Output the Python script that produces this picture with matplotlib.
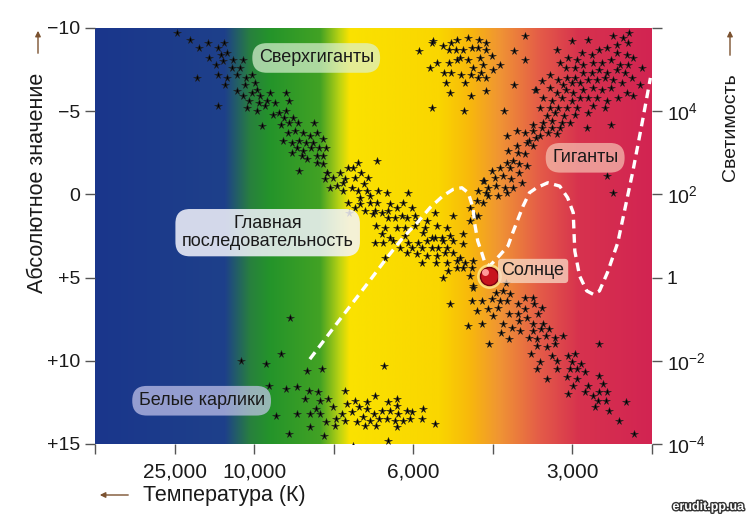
import matplotlib
matplotlib.use('Agg')
import matplotlib.pyplot as plt
import matplotlib.patheffects as pe
from matplotlib.transforms import offset_copy
import numpy as np

plt.rcParams['font.family'] = ['Liberation Sans', 'DejaVu Sans']
plt.rcParams['mathtext.fontset'] = 'custom'
plt.rcParams['mathtext.rm'] = 'Liberation Sans'

# x: position on the temperature scale (ticks 0..7), y: absolute magnitude
supergiants = [(1.03, -9.7), (1.19, -9.3), (1.31, -8.8), (1.42, -9.1), (1.55, -8.8), (1.62, -9.1), (1.58, -8.4),
               (1.66, -8.5), (1.43, -8.2), (1.61, -8.0), (1.73, -8.1), (1.86, -8.1), (1.52, -7.8), (1.72, -7.6),
               (1.82, -7.6), (1.28, -7.0), (1.55, -7.2), (1.66, -7.0), (1.78, -7.2), (1.90, -7.0), (1.97, -7.2),
               (1.63, -6.6), (1.88, -6.6), (2.01, -6.7), (1.78, -6.2), (1.86, -5.9), (1.97, -6.1), (2.04, -6.3),
               (2.07, -5.9), (2.20, -6.1), (2.40, -6.1), (1.93, -5.6), (2.06, -5.5), (2.16, -5.6), (2.26, -5.5),
               (1.55, -5.3), (1.91, -5.2), (2.04, -5.0), (2.14, -5.3), (2.44, -5.6), (2.24, -4.8), (2.31, -4.9),
               (2.40, -5.0), (2.37, -4.6), (2.49, -4.6), (2.10, -4.1), (2.34, -4.2), (2.44, -4.3), (2.55, -4.3),
               (2.75, -4.3), (2.42, -3.7), (2.51, -3.8), (2.61, -3.7), (2.70, -3.5), (2.79, -3.7), (2.36, -3.2),
               (2.47, -3.1), (2.56, -3.2), (2.65, -3.1), (2.74, -3.1), (2.86, -3.3), (2.54, -2.8), (2.61, -2.6),
               (2.71, -2.8), (2.81, -2.8), (2.90, -2.8), (2.47, -2.5), (2.60, -2.3), (2.66, -2.1), (2.79, -2.3),
               (2.86, -2.3), (2.79, -1.9), (2.86, -1.8), (2.56, -1.4), (2.91, -1.3)]

main_upper = [(3.30, -1.9), (3.54, -2.0), (2.91, -1.3), (3.08, -1.3), (3.18, -1.6), (3.24, -1.6), (3.34, -1.3),
              (3.43, -1.0), (2.89, -0.9), (2.99, -1.0), (3.14, -0.9), (3.27, -1.0), (2.95, -0.4), (3.04, -0.5),
              (3.12, -0.7), (3.23, -0.4), (3.38, -0.6), (3.12, -0.2), (3.30, -0.2), (3.42, -0.2), (3.56, -0.2),
              (3.67, -0.1), (3.93, -0.1), (3.45, 0.1), (3.33, 0.2), (3.18, 0.5), (3.33, 0.6), (3.45, 0.5),
              (3.54, 0.5), (3.71, 0.6), (3.87, 0.5), (3.27, 0.8), (3.39, 1.0), (3.52, 1.0), (3.68, 1.0),
              (3.79, 0.8), (3.98, 0.8), (3.19, 1.1), (3.49, 1.2), (3.61, 1.1), (3.86, 1.3), (4.02, 1.3),
              (4.27, 1.1), (3.68, 1.4), (3.77, 1.4), (3.92, 1.4), (4.05, 1.6), (4.17, 1.6), (4.50, 1.3),
              (3.53, 1.9), (3.64, 2.0), (3.79, 2.0), (3.89, 2.0), (4.02, 1.9), (4.15, 2.0), (4.30, 1.9),
              (4.42, 2.0), (3.61, 2.4), (3.71, 2.6), (3.89, 2.5), (4.12, 2.3), (4.23, 2.6), (4.36, 2.6),
              (4.46, 2.5), (4.62, 2.4), (3.52, 2.9), (3.62, 2.9), (3.74, 2.8), (3.93, 2.9), (4.06, 2.9),
              (4.17, 2.8), (4.27, 2.6), (4.37, 2.8), (4.50, 2.8), (4.62, 3.0), (3.83, 3.2), (3.99, 3.2),
              (4.11, 3.2), (4.23, 3.2), (4.31, 3.2), (4.42, 3.2), (3.64, 3.8), (3.92, 3.5), (4.05, 3.6),
              (4.17, 3.7), (4.30, 3.7), (4.40, 3.5), (4.50, 3.5), (4.59, 3.8), (4.11, 4.1), (4.28, 4.1),
              (4.42, 4.1), (4.55, 4.0), (4.65, 4.1), (4.75, 4.0), (4.43, 4.6), (4.55, 4.4), (4.62, 4.4),
              (4.74, 4.4), (4.37, 5.0), (4.71, 4.9), (4.75, 5.6), (4.87, -0.8), (4.81, -0.2), (4.92, -0.1),
              (4.80, 0.4), (4.87, 0.5), (4.71, 0.8), (4.77, 1.3), (4.71, 1.6), (4.81, 1.3)]

yellow_cluster = [(4.25, -9.2), (4.37, -8.9), (4.47, -9.1), (4.55, -9.3), (4.69, -9.4), (4.82, -9.3), (4.92, -9.1),
                  (4.07, -8.6), (4.45, -8.7), (4.54, -8.7), (4.62, -8.7), (4.74, -8.8), (4.81, -8.8), (4.92, -8.7),
                  (4.59, -8.2), (4.84, -8.2), (4.99, -8.3), (4.30, -7.9), (4.45, -7.9), (4.55, -8.1), (4.69, -8.1),
                  (4.87, -7.8), (5.09, -7.8), (4.21, -7.6), (4.75, -7.6), (5.00, -7.5), (4.38, -7.3), (4.48, -7.3),
                  (4.60, -7.2), (4.72, -7.2), (4.85, -7.3), (4.81, -7.0), (4.92, -7.0), (4.41, -6.7), (4.65, -6.7),
                  (4.46, -6.1), (4.72, -5.9), (4.92, -6.2), (4.23, -5.2), (4.64, -5.0), (5.14, -5.0), (5.40, -9.5),
                  (5.26, -8.6), (5.40, -8.1), (5.26, -6.6), (5.53, -6.3), (4.23, -9.1)]

giants = [(5.80, -8.7), (5.99, -9.2), (6.19, -9.3), (6.51, -9.5), (6.63, -9.4), (6.71, -9.7),
          (5.84, -7.9), (5.94, -8.2), (6.06, -8.1), (6.12, -8.5), (6.24, -8.4), (6.34, -8.7), (6.44, -8.8),
          (6.56, -9.0), (6.70, -9.1), (6.56, -8.5), (6.68, -8.4), (6.76, -8.2), (6.88, -7.6),
          (5.92, -7.6), (6.03, -7.6), (6.13, -7.8), (6.26, -7.9), (6.37, -7.9), (6.49, -8.1), (6.60, -7.8),
          (6.70, -7.8), (5.93, -7.0), (6.03, -7.0), (6.13, -7.3), (6.24, -7.3), (6.34, -7.5), (6.44, -7.3),
          (6.56, -7.5), (6.66, -7.3), (5.72, -7.2), (5.62, -6.8), (5.82, -6.9), (5.88, -6.6), (5.99, -6.7),
          (6.09, -6.7), (6.19, -6.9), (6.31, -6.9), (6.41, -7.0), (6.51, -6.9), (6.62, -6.7), (6.75, -7.0),
          (6.85, -6.6), (5.54, -6.3), (5.72, -6.4), (5.80, -6.1), (5.92, -6.3), (6.01, -6.1), (6.13, -6.3),
          (6.26, -6.4), (6.37, -6.3), (6.49, -6.4), (6.68, -6.1), (6.76, -5.9), (5.63, -5.8), (5.74, -5.6),
          (5.87, -5.8), (5.99, -5.6), (6.09, -5.8), (6.19, -5.8), (6.31, -5.8), (6.44, -5.6), (6.57, -5.8),
          (5.59, -5.2), (5.72, -5.2), (5.82, -5.2), (5.93, -5.2), (6.06, -5.2), (6.26, -5.3), (6.41, -5.2),
          (5.68, -4.7), (5.78, -4.9), (5.90, -4.7), (6.03, -4.8), (6.19, -4.9), (5.63, -4.3), (5.74, -4.4),
          (5.87, -4.3), (5.97, -4.3), (6.49, -4.2), (5.50, -4.2), (5.30, -3.8), (5.40, -3.7), (5.50, -3.8),
          (5.62, -4.0), (5.74, -4.0), (5.84, -4.0), (6.18, -4.0), (5.59, -3.5), (5.69, -3.7), (5.80, -3.6),
          (5.18, -3.5), (5.46, -3.2), (5.54, -3.4), (5.30, -2.9), (5.43, -3.1), (5.50, -2.9), (5.19, -2.6),
          (5.31, -2.5), (5.40, -2.4), (5.18, -1.9), (5.25, -2.0), (5.33, -1.8), (5.43, -1.7), (4.99, -1.4),
          (5.09, -1.6), (5.21, -1.6), (5.33, -1.3), (5.03, -1.0), (5.13, -1.1), (5.23, -0.9), (5.36, -0.7),
          (4.89, -0.8), (4.94, -0.4), (5.04, -0.5), (5.15, -0.4), (5.25, -0.4), (4.94, 0.1), (5.06, 0.1),
          (5.18, -0.1), (6.44, -1.1), (6.51, -0.1)]

main_lower = [(4.75, 5.5), (5.04, 5.9), (5.13, 5.8), (5.21, 6.0), (5.16, 5.3), (4.74, 6.4), (4.86, 6.4),
              (4.99, 6.3), (5.09, 6.4), (5.18, 6.4), (5.31, 6.6), (5.40, 6.2), (5.50, 6.2), (5.52, 6.6),
              (5.62, 6.8), (4.80, 7.0), (4.94, 6.9), (5.06, 6.8), (5.00, 7.3), (5.20, 7.2), (5.31, 7.2),
              (5.41, 6.9), (5.57, 7.2), (5.33, 7.6), (5.43, 7.4), (5.50, 7.8), (5.63, 7.8), (4.69, 7.9),
              (4.86, 7.8), (5.13, 7.8), (5.24, 8.0), (5.10, 8.3), (5.34, 8.2), (5.50, 8.2), (5.60, 8.1),
              (5.70, 8.1), (5.20, 8.7), (5.46, 8.6), (5.55, 8.7), (5.67, 8.5), (5.78, 8.6), (5.88, 8.5),
              (4.95, 9.0), (5.55, 9.1), (5.68, 9.2), (5.78, 9.0), (5.48, 9.6), (5.74, 9.7), (5.94, 9.7),
              (6.03, 9.6), (6.34, 9.0), (5.59, 10.1), (5.80, 10.0), (5.99, 10.1), (6.11, 10.2), (5.55, 10.5),
              (5.80, 10.5), (5.97, 10.5), (6.06, 10.5), (6.16, 10.7), (5.68, 11.1), (5.93, 11.0), (6.06, 11.1),
              (6.34, 10.9), (6.01, 11.5), (6.19, 11.5), (6.39, 11.4), (5.94, 12.0), (6.16, 11.9), (6.26, 12.1),
              (6.34, 11.9), (6.43, 11.9), (6.32, 12.4), (6.42, 12.4), (6.67, 12.5), (6.28, 12.8), (6.46, 13.0),
              (6.58, 13.6), (6.77, 14.4), (4.46, 6.6)]

white_dwarfs = [(1.83, 10.0), (2.15, 10.2), (2.34, 9.6), (2.66, 10.6), (2.85, 10.5), (3.63, 10.3),
                (2.19, 11.5), (2.40, 11.7), (2.54, 11.6), (2.69, 11.8), (2.80, 11.9), (3.14, 11.8),
                (2.64, 12.3), (2.83, 12.4), (2.93, 12.3), (3.17, 12.6), (3.27, 12.4), (3.42, 12.5), (3.52, 12.1),
                (3.68, 12.5), (3.79, 12.3), (2.27, 13.3), (2.54, 13.2), (2.70, 13.2), (2.78, 12.9), (2.83, 13.2),
                (2.99, 12.8), (3.10, 13.2), (3.23, 13.1), (3.32, 12.8), (3.42, 12.9), (3.51, 13.2), (3.61, 13.0),
                (3.71, 13.0), (3.79, 12.7), (3.81, 13.2), (3.92, 13.0), (3.99, 13.1), (4.12, 12.9), (2.90, 13.7),
                (3.03, 13.5), (3.14, 13.6), (3.29, 13.7), (3.37, 13.4), (3.45, 13.6), (3.57, 13.5), (3.67, 13.5),
                (3.77, 13.6), (3.87, 13.6), (3.96, 13.5), (4.11, 13.5), (4.27, 13.8), (2.70, 14.0), (3.02, 13.9),
                (3.39, 13.9), (3.53, 13.9), (3.79, 14.0), (2.44, 14.4), (2.88, 14.5), (3.68, 14.8), (3.24, 15.1),
                (2.45, 7.4)]

# dashed evolutionary track
track_x = [2.70, 3.08, 3.45, 3.67, 3.87, 4.05, 4.21, 4.37, 4.50, 4.61, 4.69, 4.75, 4.77, 4.81, 4.86, 4.90,
           4.96, 5.06, 5.19, 5.25, 5.38, 5.46, 5.55, 5.69, 5.84, 5.94, 6.01, 6.02, 6.03, 6.09, 6.18, 6.26,
           6.34, 6.44, 6.57, 6.76, 6.88, 6.98]
track_m = [9.9, 7.5, 5.2, 3.8, 2.6, 1.7, 0.8, 0.1, -0.3, -0.4, -0.1, 0.8, 1.7, 2.8, 3.5, 4.1,
           4.3, 3.8, 3.1, 2.3, 0.7, -0.1, -0.4, -0.7, -0.5, 0.2, 1.1, 2.3, 3.4, 4.9, 5.8, 6.0,
           5.8, 4.7, 2.9, -1.4, -4.4, -7.0]

sun_x, sun_m = 4.95, 4.9

temp_ticks = [0, 1, 2, 3, 4, 5, 6, 7]
temp_labels = ['', '25,000', '10,000', '', '6,000', '', '3,000', '']
mag_ticks = [-10, -5, 0, 5, 10, 15]
mag_labels = ['\u221210', '\u22125', '0', '+5', '+10', '+15']
lum_labels = ['', r'$\mathregular{10^{4}}$', r'$\mathregular{10^{2}}$', '1',
              r'$\mathregular{10^{-2}}$', r'$\mathregular{10^{-4}}$']

fig = plt.figure(figsize=(7.48, 5.2), dpi=100)
ax = fig.add_axes([95 / 748, 1 - 444 / 520, 557 / 748, 416 / 520])

# colour spectrum background
stops = [0.0, 1.63, 1.95, 2.2, 2.83, 3.08, 3.2, 4.33, 4.71, 5.09, 5.59, 6.09, 7.0]
cols = np.array([(26, 54, 140), (30, 64, 138), (40, 128, 62), (36, 148, 42), (66, 162, 36), (190, 212, 18),
                 (250, 226, 0), (250, 214, 0), (248, 184, 12), (240, 148, 52), (228, 92, 72), (215, 50, 78),
                 (210, 36, 82)]) / 255
xs = np.linspace(0, 7, 600)
grad = np.stack([np.interp(xs, stops, cols[:, i]) for i in range(3)], axis=-1)[None, :, :]
ax.imshow(grad, extent=[0, 7, 15, -10], aspect='auto', zorder=0)

ax.set_xlim(0, 7)
ax.set_ylim(15, -10)

for grp in [supergiants, main_upper, yellow_cluster, giants, main_lower, white_dwarfs]:
    arr = np.array(grp)
    ax.plot(arr[:, 0], arr[:, 1], ls='none', marker='*', ms=5.6, color='black', mec='#222222', mew=0.4, zorder=3)

ax.plot(track_x, track_m, color='white', lw=2.4, dashes=(2.6, 1.7), zorder=4)

ax.plot(sun_x, sun_m, 'o', ms=17, color='#fff3a0', alpha=0.6, zorder=5)
ax.plot(sun_x, sun_m, 'o', ms=13, color='#c8141e', mec='#7a0010', mew=1, zorder=6)
ax.plot(sun_x, sun_m, 'o', ms=4, color='#ff9a9a', zorder=7,
        transform=offset_copy(ax.transData, fig=fig, x=-2.5, y=2.5, units='points'))


def label(x, y, s, fc, alpha=0.7):
    ax.text(x, y, s, fontsize=13, color='#1a1a1a', ha='center', va='center', zorder=8, linespacing=1.05,
            bbox=dict(boxstyle='round,pad=0.35,rounding_size=0.8', fc=fc, ec='none', alpha=alpha))


label(2.78, -8.2, 'Сверхгиганты', '#dcf2d4')
label(6.16, -2.2, 'Гиганты', '#f6c4b4')
label(2.17, 2.3, 'Главная\nпоследовательность', '#f4f4fc', 0.85)
label(1.34, 12.4, 'Белые карлики', '#c8c8ee')
ax.text(5.11, 4.6, 'Солнце', fontsize=13, color='#1a1a1a', ha='left', va='center', zorder=8,
        bbox=dict(boxstyle='round,pad=0.2', fc='#f8dcc8', ec='none', alpha=0.75))

for s in ax.spines.values():
    s.set_visible(False)

ax.set_xticks(temp_ticks)
ax.set_xticklabels(temp_labels, fontsize=15)
ax.set_yticks(mag_ticks)
ax.set_yticklabels(mag_labels, fontsize=14)
ax.tick_params(direction='out', length=7, width=1, color='#555555', labelcolor='#1a1a1a')
ax.tick_params(axis='x', pad=6)

ax2 = ax.twinx()
ax2.set_ylim(15, -10)
ax2.set_yticks(mag_ticks)
ax2.set_yticklabels(lum_labels, fontsize=14)
ax2.tick_params(direction='out', length=7, width=1, color='#555555', labelcolor='#1a1a1a')
for s in ax2.spines.values():
    s.set_visible(False)

fig.text(38 / 748, 1 - 183 / 520, 'Абсолютное значение', rotation=90, fontsize=15.5,
         ha='center', va='center', color='#1a1a1a')
fig.text(730 / 748, 1 - 127 / 520, 'Светимость', rotation=90, fontsize=14,
         ha='center', va='center', color='#1a1a1a')
fig.text(143 / 748, 1 - 495 / 520, 'Температура (К)', fontsize=15.5, ha='left', va='center',
         color='#1a1a1a')

arrow = dict(arrowstyle='-|>', color='#7b5230', lw=1, mutation_scale=8)
ax.annotate('', xy=(38, 520 - 28), xytext=(38, 520 - 56), xycoords='figure pixels', arrowprops=arrow)
ax.annotate('', xy=(730, 520 - 28), xytext=(730, 520 - 58), xycoords='figure pixels', arrowprops=arrow)
ax.annotate('', xy=(97, 520 - 495), xytext=(131, 520 - 495), xycoords='figure pixels', arrowprops=arrow)

fig.text(744 / 748, 1 - 507 / 520, 'erudit.pp.ua', fontsize=9, fontweight='bold', color='white',
         ha='right', va='center', path_effects=[pe.withStroke(linewidth=2, foreground='#333333')])

fig.savefig('out.png', dpi=100)
